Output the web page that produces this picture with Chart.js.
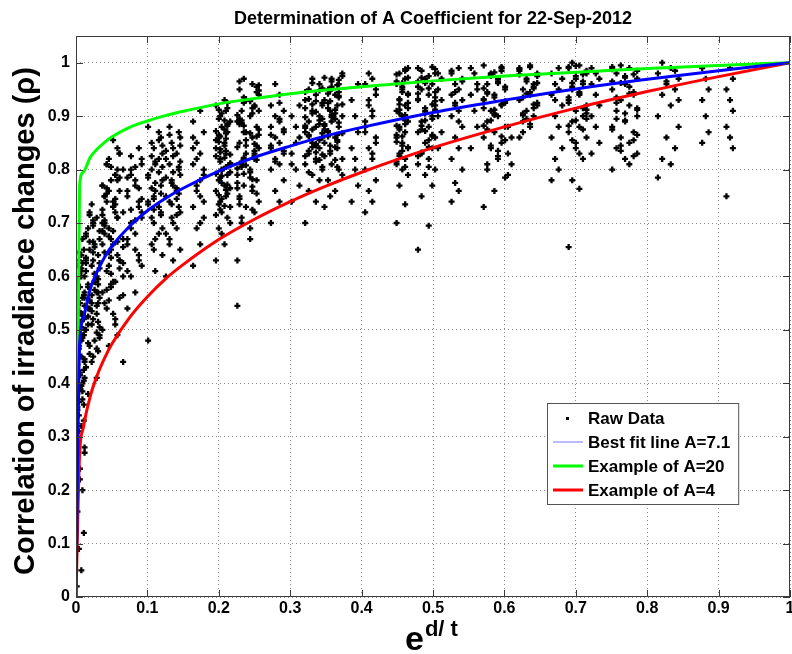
<!DOCTYPE html>
<html>
<head>
<meta charset="utf-8">
<script src="https://cdn.jsdelivr.net/npm/chart.js@4.4.1/dist/chart.umd.min.js"></script>
<style>
  body { margin: 0; background: #fff; }
  canvas { display: block; }
</style>
</head>
<body>
<canvas id="aChart" width="792" height="654"></canvas>
<script>
var chartTitle = 'Determination of A Coefficient for 22-Sep-2012';
var yTitle = 'Correlation of irradiance changes (\u03c1)';
var legendLabels = ['Raw Data', 'Best fit line A=7.1', 'Example of A=20', 'Example of A=4'];

// raw data, one entry per column of points: x positions inside the column
var colXs = [
    [0.001, 0.0075, 0.004, 0.011, 0.002, 0.009, 0.0055, 0.012],
    [0.014, 0.024, 0.019, 0.033, 0.017, 0.029, 0.022, 0.031, 0.026],
    [0.037, 0.055, 0.043, 0.061, 0.049, 0.066, 0.046, 0.058, 0.052, 0.04],
    [0.072, 0.083, 0.077, 0.092, 0.088],
    [0.101, 0.111, 0.121, 0.106, 0.116, 0.109, 0.119],
    [0.126, 0.136, 0.146, 0.131, 0.141, 0.134, 0.144],
    [0.164, 0.174, 0.169, 0.179],
    [0.196, 0.208, 0.2, 0.212, 0.204, 0.216, 0.202, 0.21],
    [0.226, 0.244, 0.232, 0.25, 0.238, 0.256, 0.229, 0.247, 0.235, 0.253],
    [0.273, 0.285, 0.279, 0.291],
    [0.302, 0.313, 0.308],
    [0.321, 0.336, 0.326, 0.341, 0.331, 0.345],
    [0.348, 0.363, 0.353, 0.368, 0.358, 0.373, 0.356, 0.366],
    [0.386, 0.395, 0.391],
    [0.405, 0.415, 0.41, 0.42],
    [0.449, 0.461, 0.453, 0.465, 0.457],
    [0.479, 0.494, 0.484, 0.499, 0.489, 0.503],
    [0.507, 0.512],
    [0.526, 0.536, 0.531, 0.541],
    [0.553, 0.562, 0.558],
    [0.571, 0.586, 0.601, 0.576, 0.591, 0.581, 0.596],
    [0.605, 0.61],
    [0.621, 0.636, 0.626, 0.641, 0.631, 0.646],
    [0.666, 0.676, 0.671, 0.681],
    [0.69, 0.705, 0.695, 0.71, 0.7, 0.715],
    [0.722, 0.733, 0.728],
    [0.751, 0.769, 0.786, 0.757, 0.775, 0.763, 0.781],
    [0.815, 0.833, 0.821, 0.839, 0.827, 0.844],
    [0.877, 0.886, 0.882],
    [0.911, 0.92, 0.916]
];
// ...and the correlation values of each column, in percent
var colYs = [
    [2, 5, 9, 12, 16, 20, 24, 27, 30, 32, 34, 36, 38, 40, 42, 44, 46, 48, 50, 52, 54, 56, 58, 60, 62, 64,
     31, 33, 35, 37, 39, 41, 43, 45, 47, 49, 51, 53, 55, 57, 59, 61, 63, 65,
     35.5, 38.5, 41.5, 44.5, 47.5, 50.5, 53.5, 56.5, 59.5, 62.5,
     22, 28, 32.5, 39.5, 46.5, 52.5, 58.5, 67, 45, 50, 55, 60,
     36.5, 40.5, 43.5, 48.5, 51.5, 54.5, 57.5, 61.5, 64.5, 42.5, 46, 49, 53, 56, 59],
    [43, 45, 47, 49, 51, 53, 55, 57, 59, 61, 63, 65, 67, 69, 71,
     44, 46, 48, 50, 52, 54, 56, 58, 60, 62, 64, 66, 68, 70, 72,
     50.5, 52.5, 54.5, 56.5, 58.5, 60.5, 62.5, 64.5, 66.5, 68.5,
     38, 41, 73.5, 51.5, 57.5, 63.5, 69.5, 55.5, 61.5,
     47.5, 49.5, 53.5, 59.5, 65.5, 67.5, 70.5, 45.5, 62.5, 58.5,
     46.5, 51, 55, 59, 63, 66.5, 71.5, 48.5, 54, 57],
    [50, 52, 54, 56, 58, 60, 62, 64, 66, 68, 70, 72, 74, 76, 78, 80, 82, 84,
     53, 55, 57, 59, 61, 63, 65, 67, 69, 71, 73, 75, 77, 79, 81, 83,
     60.5, 62.5, 64.5, 66.5, 68.5, 70.5, 72.5, 74.5, 76.5, 78.5, 80.5,
     44, 47, 49, 85.5, 69.5, 71.5, 73.5, 75.5,
     61.5, 63.5, 65.5, 67.5, 71, 73, 75, 77, 79, 81, 83, 58.5, 56.5, 55.5, 78, 74, 70, 66,
     51, 57.5, 63, 67, 72, 76, 80, 59, 64.5, 68.5],
    [54, 57, 60, 62, 64, 66, 68, 70, 72, 74, 76, 78, 80, 82, 84,
     61, 65, 69, 71, 73, 75, 77, 79, 81, 63, 67,
     70.5, 72.5, 74.5, 76.5, 78.5, 80.5, 82.5],
    [48, 61, 64, 66, 68, 70, 72, 74, 76, 78, 80, 82, 84, 86, 88,
     67, 69, 71, 73, 75, 77, 79, 81, 83, 85, 87,
     72.5, 75.5, 78.5, 81.5, 84.5, 76.5, 79.5,
     65, 71.5, 73.5, 77.5, 80.5, 82.5, 85.5, 74.5],
    [60, 63, 65, 67, 69, 71, 73, 75, 77, 79, 81, 83, 85, 87,
     68, 70, 72, 74, 76, 78, 80, 82, 84, 86, 88,
     74.5, 77.5, 80.5, 83.5, 79.5, 81.5,
     66, 71.5, 73.5, 75.5, 78.5, 82.5, 84.5, 86.5, 76.5],
    [62, 66, 69, 71, 73, 75, 77, 79, 81, 83, 85, 87, 89, 91, 76, 80, 84, 78, 82, 74, 86, 70],
    [63, 66, 69, 71, 72, 73, 74, 75, 76, 77, 78, 79, 80, 81, 82, 83, 84, 85, 86, 87, 88, 89, 90, 91, 92, 93,
     73.5, 75.5, 77.5, 79.5, 81.5, 83.5, 85.5, 87.5, 89.5, 91.5,
     74.5, 76.5, 78.5, 80.5, 82.5, 84.5, 86.5, 88.5, 68, 70,
     72.5, 76.2, 79.2, 82.2, 85.2, 88.2, 90.5, 80.8, 83.8, 86.8,
     71.5, 73.2, 75.2, 77.2, 79.8, 81.2, 83.2, 85.8, 87.2, 89.2, 91.2, 92.5, 78.8, 82.8, 86.2],
    [63, 67, 70, 72, 73, 74, 75, 76, 77, 78, 79, 80, 81, 82, 83, 84, 85, 86, 87, 88, 89, 90, 91, 92, 93, 94, 95, 96, 97,
     75.5, 77.5, 79.5, 81.5, 83.5, 85.5, 87.5, 89.5, 91.5, 93.5, 95.5,
     76.5, 78.5, 80.5, 82.5, 84.5, 86.5, 88.5, 90.5, 92.5, 94.5,
     54.5, 69, 71, 83, 87, 91,
     74.5, 78.2, 82.2, 86.2, 90.2, 92.8, 88.8, 84.8, 80.8, 94.8,
     73.5, 76.8, 79.2, 81.8, 84.2, 86.8, 89.2, 91.8, 93.2, 95.8, 96.5, 72.5, 88.2, 84.5, 80.2],
    [70, 74, 76, 78, 80, 81, 82, 83, 84, 85, 86, 87, 88, 89, 90, 91, 92, 94, 96, 83.5, 86.5, 89.5, 81.5, 87.5, 84.5, 92.5],
    [74, 77, 80, 83, 86, 88, 90, 92, 85, 81],
    [70, 74, 76, 78, 79, 80, 81, 82, 83, 84, 85, 86, 87, 88, 89, 90, 91, 92, 93, 94, 95, 96, 97,
     80.5, 82.5, 84.5, 86.5, 88.5, 90.5, 92.5, 94.5, 81.5, 83.5, 85.5, 87.5, 89.5, 91.5,
     83.2, 86.2, 89.2, 92.2, 95.2, 87.8, 84.8,
     79.5, 81.8, 84.2, 86.8, 88.2, 90.8, 93.2, 94.8, 96.2, 82.8, 89.8, 92.8],
    [73, 76, 78, 80, 81, 82, 83, 84, 85, 86, 87, 88, 89, 90, 91, 92, 93, 94, 95, 96, 97, 98,
     83.5, 85.5, 87.5, 89.5, 91.5, 93.5, 95.5, 97.5, 84.5, 86.5, 88.5, 90.5, 92.5, 94.5, 96.5, 79, 75,
     85.2, 88.2, 91.2, 94.2, 96.8, 89.8, 86.8, 92.8,
     80.5, 82.5, 84.2, 86.2, 88.8, 90.2, 92.2, 94.8, 95.8, 97.2, 81.8, 87.2, 93.8],
    [74, 77, 80, 84, 87, 90, 93, 96, 82],
    [72, 74, 76, 78, 80, 82, 84, 86, 88, 90, 92, 94, 96, 97, 98, 85, 89, 91, 93, 95, 87, 83],
    [70, 73.5, 77, 79, 80, 81, 82, 83, 84, 85, 86, 87, 88, 89, 90, 91, 92, 93, 94, 95, 96, 97, 98, 99,
     84.5, 86.5, 88.5, 90.5, 92.5, 94.5, 96.5, 98.5, 87.5, 91.5, 95.5,
     85.2, 89.2, 93.2, 97.2, 83.5, 81.5,
     80.5, 82.5, 84.2, 86.2, 88.2, 90.2, 92.2, 94.2, 96.2, 97.8, 98.8, 91.2],
    [65, 69.5, 75, 77, 79, 80, 81, 82, 83, 84, 85, 86, 87, 88, 89, 90, 91, 92, 93, 94, 95, 96, 97, 98, 99,
     85.5, 87.5, 89.5, 91.5, 93.5, 95.5, 97.5, 98.5, 86.5, 90.5, 94.5, 96.5,
     84.2, 88.2, 92.2, 96.2, 98.8, 82.5,
     80.5, 83.2, 86.2, 89.2, 91.2, 93.2, 95.2, 97.2, 99.2, 87.2, 92.8, 94.2],
    [84, 87, 90, 93, 95, 97, 98],
    [74, 76, 77.5, 80, 82, 84, 86, 88, 90, 91, 92, 93, 94, 95, 96, 97, 98, 99, 94.5, 96.5, 98.5, 89, 92.5],
    [84, 88, 91, 94, 96, 98, 99, 95],
    [73, 76, 78.5, 80, 82, 84, 85, 86, 87, 88, 89, 90, 91, 92, 93, 94, 95, 96, 97, 98, 99, 99.5,
     90.5, 92.5, 94.5, 96.5, 97.5, 98.5, 91.5, 93.5, 95.5, 87.5, 83.5,
     89.2, 92.2, 95.2, 98.2, 85.5, 81,
     82.5, 84.5, 86.2, 88.2, 90.2, 92.8, 94.2, 96.2, 97.8, 99.2, 93.2, 91.2],
    [79, 81, 83, 86, 88],
    [86, 88, 89, 90, 91, 92, 93, 94, 95, 96, 97, 98, 99, 99.5, 93.5, 95.5, 96.5, 97.5, 98.5, 94.5, 87, 91.5, 89.5, 92.5, 98.8,
     88.5, 90.5, 92.2, 94.2, 96.2, 97.8, 99.2, 90.2, 95.2],
    [78, 80, 82, 84, 86, 88, 90, 92, 94, 95, 96, 97, 98, 99, 93],
    [65.5, 76.4, 78, 82, 84, 86, 87, 88, 89, 90, 91, 92, 93, 94, 95, 96, 97, 98, 99, 99.5, 100,
     96.5, 97.5, 98.5, 93.5, 94.5, 95.5, 91.5, 85, 89.5, 99.2,
     83, 85.5, 87.5, 89.2, 91.2, 92.5, 94.2, 96.2, 97.8, 99.4, 90.5, 88.2],
    [83, 85, 88, 90, 92, 94, 96, 97, 98, 99],
    [80, 82, 83, 84, 85, 86, 87, 88, 89, 90, 91, 92, 93, 94, 95, 96, 97, 98, 99, 99.5,
     94.5, 96.5, 97.5, 98.5, 93.5, 95.5, 84.5, 82.5, 98.8, 97.2, 91.5, 89.5,
     81, 83.5, 85.5, 87.5, 89.2, 91.2, 92.5, 94.2, 96.2, 97.8, 99.2, 90.5, 86.5],
    [78.5, 81, 82, 84, 86, 88, 90, 92, 94, 95, 96, 97, 98, 99, 100, 98.5, 96.5, 93],
    [85, 87, 90, 93, 95, 97, 99],
    [75, 84, 86, 88, 91, 93, 95, 97, 99]
];

// the three curves
var curveX = [0, 0.005, 0.01, 0.02, 0.03, 0.04, 0.05, 0.075, 0.1, 0.125, 0.15, 0.2, 0.25, 0.3, 0.35, 0.4, 0.5, 0.6, 0.7, 0.8, 0.9, 1];
var blueY  = [0, 0.47, 0.52, 0.577, 0.61, 0.636, 0.656, 0.694, 0.723, 0.746, 0.765, 0.797, 0.823, 0.844, 0.863, 0.879, 0.907, 0.93, 0.951, 0.969, 0.985, 1];
var greenY = [0, 0.77, 0.795, 0.823, 0.839, 0.851, 0.861, 0.879, 0.891, 0.901, 0.909, 0.923, 0.933, 0.942, 0.949, 0.955, 0.966, 0.975, 0.982, 0.989, 0.995, 1];
var redY   = [0, 0.266, 0.316, 0.376, 0.416, 0.447, 0.473, 0.523, 0.562, 0.595, 0.622, 0.669, 0.707, 0.74, 0.769, 0.795, 0.841, 0.88, 0.915, 0.946, 0.974, 1];

var rawPoints = [];
for (var i = 0; i < colYs.length; i++) {
    for (var j = 0; j < colYs[i].length; j++) {
        rawPoints.push({ x: colXs[i][j % colXs[i].length], y: colYs[i][j] / 100 });
    }
}
function curve(ys) {
    return curveX.map(function (x, k) { return { x: x, y: ys[k] }; });
}

var FONT = 'Arial, "Liberation Sans", sans-serif';

function tickText(v) {
    return String(Math.round(v * 10) / 10);
}

var matlabLook = {
    id: 'matlabLook',
    afterDatasetsDraw: function (chart) {
        var ctx = chart.ctx, a = chart.chartArea;
        var xs = chart.scales.x, ys = chart.scales.y;
        ctx.save();
        // box and inward ticks
        ctx.strokeStyle = '#3a3a3a';
        ctx.lineWidth = 1;
        ctx.strokeRect(a.left + 0.5, a.top + 0.5, a.right - a.left - 1, a.bottom - a.top - 1);
        ctx.beginPath();
        xs.ticks.forEach(function (t) {
            var px = Math.round(xs.getPixelForValue(t.value)) + 0.5;
            ctx.moveTo(px, a.bottom); ctx.lineTo(px, a.bottom - 7);
            ctx.moveTo(px, a.top); ctx.lineTo(px, a.top + 7);
        });
        ys.ticks.forEach(function (t) {
            var py = Math.round(ys.getPixelForValue(t.value)) + 0.5;
            ctx.moveTo(a.left, py); ctx.lineTo(a.left + 7, py);
            ctx.moveTo(a.right, py); ctx.lineTo(a.right - 7, py);
        });
        ctx.stroke();

        // x tick labels
        ctx.fillStyle = '#000';
        ctx.font = 'bold 16px ' + FONT;
        ctx.textAlign = 'center';
        ctx.textBaseline = 'middle';
        xs.ticks.forEach(function (t) {
            ctx.fillText(tickText(t.value), xs.getPixelForValue(t.value), a.bottom + 12);
        });

        // legend
        ctx.font = 'bold 17px ' + FONT;
        var maxW = 0;
        legendLabels.forEach(function (l) { maxW = Math.max(maxW, ctx.measureText(l).width); });
        var bx = 547, by = 403, bw = 41 + maxW + 8, bh = 101;
        ctx.fillStyle = '#fff';
        ctx.fillRect(bx, by, bw, bh);
        ctx.strokeStyle = '#555';
        ctx.strokeRect(bx + 0.5, by + 0.5, bw, bh);
        var rows = [418, 442, 466, 490];
        var cols = [null, '#7777ff', '#00ff00', '#ff0000'];
        var widths = [0, 1, 3, 3];
        rows.forEach(function (ry, k) {
            if (k === 0) {
                ctx.fillStyle = '#000';
                ctx.fillRect(566, ry - 1, 3, 3);
            } else {
                ctx.strokeStyle = cols[k];
                ctx.lineWidth = widths[k];
                ctx.beginPath();
                ctx.moveTo(553, ry); ctx.lineTo(583, ry);
                ctx.stroke();
            }
            ctx.fillStyle = '#000';
            ctx.textAlign = 'left';
            ctx.textBaseline = 'middle';
            ctx.fillText(legendLabels[k], 588, ry + 1);
        });

        // titles
        ctx.fillStyle = '#000';
        ctx.textAlign = 'center';
        ctx.textBaseline = 'middle';
        ctx.font = 'bold 18px ' + FONT;
        ctx.fillText(chartTitle, (a.left + a.right) / 2, 19);

        ctx.save();
        ctx.translate(26, 321);
        ctx.rotate(-Math.PI / 2);
        ctx.font = 'bold 29px ' + FONT;
        ctx.fillText(yTitle, 0, 0);
        ctx.restore();

        ctx.textAlign = 'left';
        ctx.textBaseline = 'alphabetic';
        ctx.font = 'bold 34px ' + FONT;
        ctx.fillText('e', 405, 650);
        var ew = ctx.measureText('e').width;
        ctx.font = 'bold 22px ' + FONT;
        ctx.fillText('d/ t', 405 + ew + 1, 636);
        ctx.restore();
    }
};

new Chart(document.getElementById('aChart'), {
    type: 'scatter',
    data: {
        datasets: [{
            label: legendLabels[1],
            data: curve(blueY),
            showLine: true,
            borderColor: '#0000ff',
            borderWidth: 3,
            pointRadius: 0,
            cubicInterpolationMode: 'monotone',
            order: 1
        }, {
            label: legendLabels[2],
            data: curve(greenY),
            showLine: true,
            borderColor: '#00ff00',
            borderWidth: 3,
            pointRadius: 0,
            cubicInterpolationMode: 'monotone',
            order: 2
        }, {
            label: legendLabels[3],
            data: curve(redY),
            showLine: true,
            borderColor: '#ff0000',
            borderWidth: 3,
            pointRadius: 0,
            cubicInterpolationMode: 'monotone',
            order: 3
        }, {
            label: legendLabels[0],
            data: rawPoints,
            pointStyle: 'cross',
            pointRadius: 3,
            borderColor: '#000',
            borderWidth: 2.3,
            order: 4
        }]
    },
    options: {
        responsive: false,
        animation: false,
        layout: { autoPadding: false, padding: { top: 36, right: 2, left: 0, bottom: 0 } },
        plugins: {
            legend: { display: false },
            title: { display: false },
            tooltip: { enabled: false }
        },
        scales: {
            x: {
                type: 'linear',
                min: 0,
                max: 1,
                afterFit: function (s) { s.height = 57; },
                ticks: { stepSize: 0.1, display: false },
                grid: { drawTicks: false, color: '#8c8c8c', lineWidth: 1 },
                border: { display: false, dash: [1, 3] }
            },
            y: {
                type: 'linear',
                min: 0,
                max: 1.05,
                afterFit: function (s) { s.width = 76; },
                ticks: {
                    stepSize: 0.1,
                    includeBounds: false,
                    padding: 6,
                    color: '#000',
                    callback: tickText,
                    font: { family: FONT, size: 16, weight: 'bold' }
                },
                grid: { drawTicks: false, color: '#8c8c8c', lineWidth: 1 },
                border: { display: false, dash: [1, 3] }
            }
        }
    },
    plugins: [matlabLook]
});
</script>
</body>
</html>
